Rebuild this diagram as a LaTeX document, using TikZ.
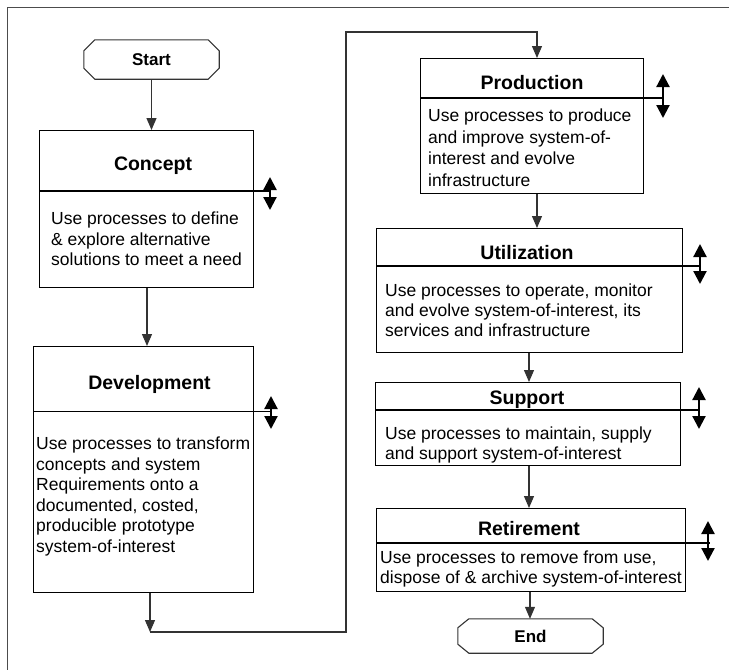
\documentclass[tikz,border=0pt]{standalone}
\usepackage{fontspec}
\setmainfont{Liberation Sans}
\usetikzlibrary{arrows.meta,calc}

\tikzset{
  box/.style={draw=black, line width=1.1pt, rectangle, anchor=north west, inner sep=0pt},
  title/.style={font=\fontsize{19.5}{22}\selectfont\bfseries, anchor=base, inner sep=0pt},
  body/.style={font=\fontsize{17.5}{20.5}\selectfont, align=left, anchor=north west, inner sep=0pt},
  term/.style={font=\fontsize{17}{20}\selectfont\bfseries, inner sep=0pt},
  outline/.style={draw=black!80, line width=1.1pt},
  divider/.style={draw=black, line width=1.8pt},
  thindiv/.style={draw=black, line width=1pt},
  conn/.style={draw=black!80, line width=1.1pt, -{Triangle[length=12pt,width=10pt]}},
  darrow/.style={draw=black, line width=2.2pt, {Triangle[length=13pt,width=13pt]}-{Triangle[length=13pt,width=13pt]}},
  frame/.style={draw=black!70, line width=0.9pt}
}

\begin{document}
\begin{tikzpicture}[x=1pt,y=-1pt]
\useasboundingbox (0,0) rectangle (729,670);

% page frame: top and left rules
\draw[frame] (7,670) -- (7,7) -- (729,7);

% Start terminal
\node[term, minimum width=135pt, minimum height=39pt] (start) at (151.5,59.5) {Start};
\draw[outline] ([xshift=11pt]start.north west) -- ([xshift=-11pt]start.north east)
  -- ([yshift=-11pt]start.north east) -- ([yshift=11pt]start.south east)
  -- ([xshift=-11pt]start.south east) -- ([xshift=11pt]start.south west)
  -- ([yshift=11pt]start.south west) -- ([yshift=-11pt]start.north west) -- cycle;

% Concept
\node[box, minimum width=214pt, minimum height=157pt] (concept) at (39,130) {};
\node[title] (conceptT) at (153,170) {Concept};
\coordinate (conceptX) at (270,191);
\draw[divider] (concept.west |- conceptX) -- (conceptX);
\coordinate (conceptU) at (270,177);
\coordinate (conceptD) at (270,210);
\draw[darrow] (conceptU) -- (conceptD);
\node[body] (conceptB) at (51,212) {Use processes to define\\\& explore alternative\\solutions to meet a need};

% Development
\node[box, minimum width=220pt, minimum height=246pt] (dev) at (33,346) {};
\node[title] (devT) at (149.5,389) {Development};
\coordinate (devX) at (272,411);
\draw[thindiv] (dev.west |- devX) -- (devX);
\coordinate (devU) at (271,396);
\coordinate (devD) at (271,429);
\draw[darrow] (devU) -- (devD);
\node[body] (devB) at (36,437) {Use processes to transform\\concepts and system\\Requirements onto a\\documented, costed,\\producible prototype\\system-of-interest};

% Production
\node[box, minimum width=223pt, minimum height=135pt] (prod) at (420,58) {};
\node[title] (prodT) at (532,89) {Production};
\coordinate (prodX) at (664,98);
\draw[divider] (prod.west |- prodX) -- (prodX);
\coordinate (prodU) at (663,74);
\coordinate (prodD) at (663,118);
\draw[darrow] (prodU) -- (prodD);
\node[body, font=\fontsize{17.5}{21.5}\selectfont] (prodB) at (428,109) {Use processes to produce\\and improve system-of-\\interest and evolve\\infrastructure};

% Utilization
\node[box, minimum width=306pt, minimum height=124pt] (util) at (376,228) {};
\node[title] (utilT) at (527,259) {Utilization};
\coordinate (utilX) at (700,266);
\draw[divider] (util.west |- utilX) -- (utilX);
\coordinate (utilU) at (700,244);
\coordinate (utilD) at (700,284);
\draw[darrow] (utilU) -- (utilD);
\node[body, font=\fontsize{17.5}{20}\selectfont] (utilB) at (385,284) {Use processes to operate, monitor\\and evolve system-of-interest, its\\services and infrastructure};

% Support
\node[box, minimum width=305pt, minimum height=83pt] (supp) at (375,382) {};
\node[title] (suppT) at (527,404) {Support};
\coordinate (suppX) at (698,410);
\draw[divider] (supp.west |- suppX) -- (suppX);
\coordinate (suppU) at (699,387);
\coordinate (suppD) at (699,429);
\draw[darrow] (suppU) -- (suppD);
\node[body, font=\fontsize{17.5}{20}\selectfont] (suppB) at (385,427) {Use processes to maintain, supply\\and support system-of-interest};

% Retirement
\node[box, minimum width=309pt, minimum height=83pt] (ret) at (376,508) {};
\node[title] (retT) at (529,535) {Retirement};
\coordinate (retX) at (710,543);
\draw[divider] (ret.west |- retX) -- (retX);
\coordinate (retU) at (708,521);
\coordinate (retD) at (708,561);
\draw[darrow] (retU) -- (retD);
\node[body, font=\fontsize{17.5}{20}\selectfont] (retB) at (380,551) {Use processes to remove from use,\\dispose of \& archive system-of-interest};

% End terminal
\node[term, minimum width=145pt, minimum height=34pt] (end) at (530.5,636) {End};
\draw[outline] ([xshift=11pt]end.north west) -- ([xshift=-11pt]end.north east)
  -- ([yshift=-9pt]end.north east) -- ([yshift=9pt]end.south east)
  -- ([xshift=-11pt]end.south east) -- ([xshift=11pt]end.south west)
  -- ([yshift=9pt]end.south west) -- ([yshift=-9pt]end.north west) -- cycle;

% Flow connectors
\draw[conn] (start.south) -- (start.south |- concept.north);
\coordinate (cdX) at (147,0);
\draw[conn] (cdX |- concept.south) -- (cdX |- dev.north);
\coordinate (devOut) at (150,0);
\coordinate (turnA) at (150,632);
\coordinate (riseB) at (346,632);
\coordinate (riseT) at (346,32);
\coordinate (prodIn) at (537,0);
\draw[conn] (devOut |- dev.south) -- (turnA);
\draw[conn] (turnA) -- (riseB) -- (riseT) -| (prodIn |- prod.north);
\draw[conn] (prodIn |- prod.south) -- (prodIn |- util.north);
\coordinate (usX) at (529,0);
\draw[conn] (usX |- util.south) -- (usX |- supp.north);
\draw[conn] (usX |- supp.south) -- (usX |- ret.north);
\coordinate (reX) at (530,0);
\draw[conn] (reX |- ret.south) -- (reX |- end.north);
\end{tikzpicture}
\end{document}
